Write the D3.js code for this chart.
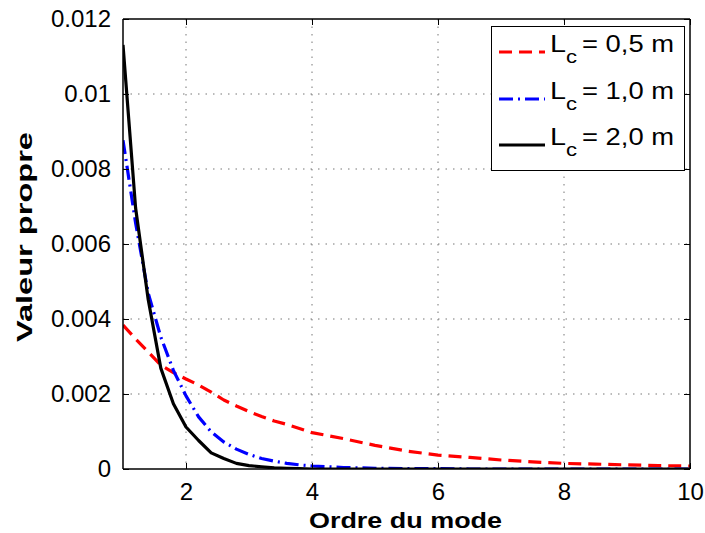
<!DOCTYPE html>
<html>
<head>
<meta charset="utf-8">
<script src="https://cdn.jsdelivr.net/npm/d3@7"></script>
<style>
  html, body { margin: 0; padding: 0; background: #fff; }
  svg { display: block; font-family: "Liberation Sans", Arial, Helvetica, sans-serif; }
</style>
</head>
<body>
<svg id="chart" width="705" height="533"></svg>
<script>
// ---- data ----
const modeOrder = [1, 1.2, 1.4, 1.6, 1.8, 2, 2.2, 2.4, 2.6, 2.8, 3, 3.2, 3.4, 3.6, 3.8, 4, 4.5, 5, 5.5, 6, 6.5, 7, 7.5, 8, 8.5, 9, 9.5, 10];
const lc05 = [0.00384, 0.00347, 0.00312, 0.00277, 0.00257, 0.00240, 0.00224, 0.00205, 0.00184, 0.00168, 0.00153, 0.00140, 0.00128, 0.00119, 0.00108, 0.00097, 0.00081, 0.00063, 0.00048, 0.00037, 0.00031, 0.00024, 0.00019, 0.00015, 0.00013, 0.00011, 0.00009, 0.00008];
const lc10 = [0.00877, 0.00656, 0.00469, 0.00352, 0.00263, 0.00195, 0.00139, 0.00099, 0.00072, 0.00053, 0.00039, 0.00028, 0.00021, 0.00015, 0.00011, 0.00008, 0.00004, 0.00002, 0.00001, 0.00001, 0, 0, 0, 0, 0, 0, 0, 0];
const lc20 = [0.01131, 0.00696, 0.00452, 0.00269, 0.00174, 0.00112, 0.00076, 0.00043, 0.00028, 0.00015, 0.00009, 0.00006, 0.00003, 0.00002, 0.00001, 0, 0, 0, 0, 0, 0, 0, 0, 0, 0, 0, 0, 0];
const seriesNames = ["0,5 m", "1,0 m", "2,0 m"];
const xTicks = [2, 4, 6, 8, 10];
const yTicks = [0, 0.002, 0.004, 0.006, 0.008, 0.01, 0.012];
const yTickLabels = ["0", "0.002", "0.004", "0.006", "0.008", "0.01", "0.012"];
const xTitle = "Ordre du mode";
const yTitle = "Valeur propre";

// ---- layout ----
const svg = d3.select("#chart");
const L = 123, R = 690, T = 19, B = 469;
const x = d3.scaleLinear().domain([1, 10]).range([L, R]);
const y = d3.scaleLinear().domain([0, 0.012]).range([B, T]);

const styles = [
  { color: "#ff0000", dash: "13,7" },
  { color: "#0000ff", dash: "14,5,2,5" },
  { color: "#000000", dash: null }
];
const allSeries = [lc05, lc10, lc20];

// grid
const grid = svg.append("g");
grid.selectAll("line.gx").data(xTicks.filter(d => d < 10)).join("line")
  .attr("x1", d => x(d)).attr("x2", d => x(d)).attr("y1", T).attr("y2", B)
  .attr("stroke", "#777").attr("stroke-width", 1).attr("stroke-dasharray", "1.5,6");
grid.selectAll("line.gy").data(yTicks.filter(d => d > 0 && d < 0.012)).join("line")
  .attr("x1", L).attr("x2", R).attr("y1", d => y(d)).attr("y2", d => y(d))
  .attr("stroke", "#777").attr("stroke-width", 1).attr("stroke-dasharray", "1.5,6");

// clip
svg.append("clipPath").attr("id", "clip").append("rect")
  .attr("x", L).attr("y", T).attr("width", R - L).attr("height", B - T);

// lines
const line = d3.line().x((d, i) => x(modeOrder[i])).y(d => y(d));
const lines = svg.append("g").attr("clip-path", "url(#clip)");
allSeries.forEach((s, k) => {
  lines.append("path").datum(s)
    .attr("d", line)
    .attr("fill", "none")
    .attr("stroke", styles[k].color)
    .attr("stroke-width", 3.2)
    .attr("stroke-linejoin", "round")
    .attr("stroke-dasharray", styles[k].dash);
});

// axes (MATLAB style: ticks inward, box)
const tickLen = 6;
const xAxisB = d3.axisBottom(x).tickValues(xTicks).tickSize(-tickLen).tickPadding(14).tickFormat(d3.format("d"));
const xAxisT = d3.axisTop(x).tickValues(xTicks).tickSize(-tickLen).tickFormat("");
const yAxisL = d3.axisLeft(y).tickValues(yTicks).tickSize(-tickLen).tickPadding(12).tickFormat((d, i) => yTickLabels[i]);
const yAxisR = d3.axisRight(y).tickValues(yTicks).tickSize(-tickLen).tickFormat("");

function styleAxis(g) {
  g.select(".domain").attr("stroke", "#000").attr("stroke-width", 1.5);
  g.selectAll(".tick line").attr("stroke", "#000").attr("stroke-width", 1);
  g.selectAll(".tick text").attr("fill", "#000").attr("font-size", 24)
    .attr("font-family", "'Liberation Sans', Arial, Helvetica, sans-serif");
}
svg.append("g").attr("transform", `translate(0,${B})`).call(xAxisB).call(styleAxis)
  .call(g => g.select(".domain").attr("d", `M${L},0H${R}`));
svg.append("g").attr("transform", `translate(0,${T})`).call(xAxisT).call(styleAxis)
  .call(g => g.select(".domain").attr("d", `M${L},0H${R}`));
svg.append("g").attr("transform", `translate(${L},0)`).call(yAxisL).call(styleAxis)
  .call(g => g.select(".domain").attr("d", `M0,${T}V${B}`));
svg.append("g").attr("transform", `translate(${R},0)`).call(yAxisR).call(styleAxis)
  .call(g => g.select(".domain").attr("d", `M0,${T}V${B}`));

// titles
svg.append("text").attr("x", 309).attr("y", 528)
  .attr("font-weight", "bold").attr("font-size", 22)
  .attr("textLength", 193).attr("lengthAdjust", "spacingAndGlyphs")
  .text(xTitle);
svg.append("text").attr("transform", `translate(32,${342}) rotate(-90)`)
  .attr("font-weight", "bold").attr("font-size", 22)
  .attr("textLength", 210).attr("lengthAdjust", "spacingAndGlyphs")
  .text(yTitle);

// legend
const lg = svg.append("g");
lg.append("rect").attr("x", 491.5).attr("y", 26.5).attr("width", 193).attr("height", 144)
  .attr("fill", "#fff").attr("stroke", "#000").attr("stroke-width", 1);
const rowY = [52, 99, 145];
seriesNames.forEach((name, k) => {
  lg.append("line").attr("x1", 499).attr("x2", 545).attr("y1", rowY[k]).attr("y2", rowY[k])
    .attr("stroke", styles[k].color).attr("stroke-width", 3.2)
    .attr("stroke-dasharray", styles[k].dash);
  lg.append("text").attr("x", 550).attr("y", rowY[k]).attr("font-size", 23)
    .attr("textLength", 16).attr("lengthAdjust", "spacingAndGlyphs").text("L");
  lg.append("text").attr("x", 566).attr("y", rowY[k] + 11).attr("font-size", 18)
    .attr("textLength", 11).attr("lengthAdjust", "spacingAndGlyphs").text("c");
  lg.append("text").attr("x", 582).attr("y", rowY[k]).attr("font-size", 23)
    .attr("textLength", 92).attr("lengthAdjust", "spacingAndGlyphs").text("= " + name);
});
</script>
</body>
</html>
